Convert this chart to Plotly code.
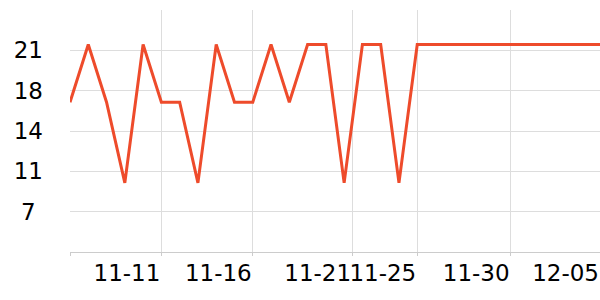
import plotly.graph_objects as go

dates = [
    "2023-11-06", "2023-11-07", "2023-11-08", "2023-11-09", "2023-11-10",
    "2023-11-11", "2023-11-12", "2023-11-13", "2023-11-14", "2023-11-15",
    "2023-11-16", "2023-11-17", "2023-11-18", "2023-11-19", "2023-11-20",
    "2023-11-21", "2023-11-22", "2023-11-23", "2023-11-24", "2023-11-25",
    "2023-11-26", "2023-11-27", "2023-11-28", "2023-11-29", "2023-11-30",
    "2023-12-01", "2023-12-02", "2023-12-03", "2023-12-04", "2023-12-05",
]
values = [17, 22, 17, 10, 22, 17, 17, 10, 22, 17,
          17, 22, 17, 22, 22, 10, 22, 22, 10, 22,
          22, 22, 22, 22, 22, 22, 22, 22, 22, 22]

x_tickvals = ["2023-11-06", "2023-11-11", "2023-11-16", "2023-11-21 10:30",
              "2023-11-25", "2023-11-30 02:40", "2023-12-05"]
x_ticktext = ["", "11-11", "11-16", "11-21", "11-25", "11-30", "12-05"]

y_tickvals = [7.5, 11, 14.5, 18, 21.5]
y_ticktext = ["7\u00a0", "11", "14", "18", "21"]

fig = go.Figure()
fig.add_trace(go.Scatter(
    x=dates, y=values, mode="lines",
    line=dict(color="#EE4B2B", width=3),
    hoverinfo="x+y",
))

fig.update_layout(
    width=600, height=300,
    margin=dict(l=70, r=0, t=10, b=48),
    paper_bgcolor="white", plot_bgcolor="white",
    showlegend=False,
    font=dict(family="DejaVu Sans", size=23, color="#000"),
)
fig.update_xaxes(
    type="date",
    range=["2023-11-06", "2023-12-05"],
    tickmode="array", tickvals=x_tickvals, ticktext=x_ticktext,
    ticklabelposition="outside left",
    tickangle=0,
    showgrid=True, gridcolor="#dddddd", gridwidth=1,
    showline=True, linecolor="#cccccc", linewidth=1,
    ticks="outside", ticklen=3, tickcolor="#cccccc",
    zeroline=False,
)
fig.update_yaxes(
    range=[4, 25],
    tickmode="array", tickvals=y_tickvals, ticktext=y_ticktext,
    showgrid=True, gridcolor="#dddddd", gridwidth=1,
    showline=False, ticks="", zeroline=False,
    ticklabelstandoff=26,
)

fig.write_html("out.html")
